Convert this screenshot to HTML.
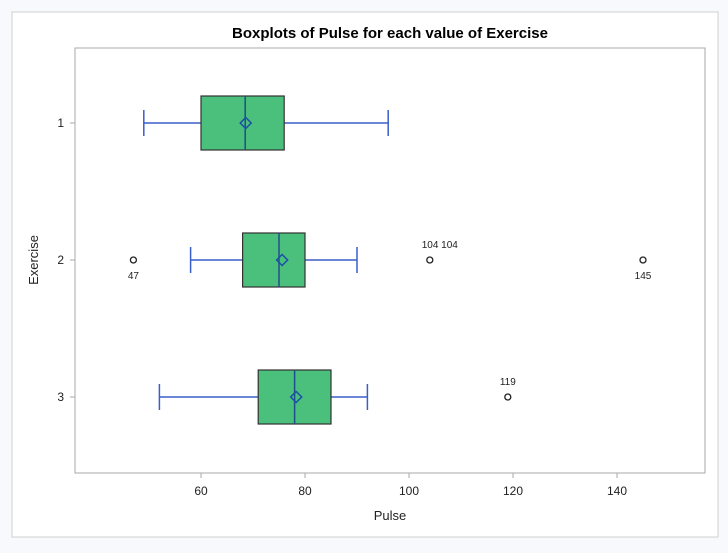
<!DOCTYPE html>
<html><head><meta charset="utf-8"><style>
html,body{margin:0;padding:0;background:#f7f9fd;}
svg{display:block;font-family:"Liberation Sans",sans-serif;}
</style></head><body>
<svg id="chart" width="728" height="553">
<rect x="12" y="12" width="706" height="525" fill="#fff" stroke="#d0d0d0"/>
<text x="390" y="38" text-anchor="middle" font-size="15" font-weight="bold" fill="#000">Boxplots of Pulse for each value of Exercise</text>
<rect x="75" y="48" width="630" height="425" fill="none" stroke="#a8a8a8"/>
<text x="390" y="520" text-anchor="middle" font-size="13" fill="#222">Pulse</text>
<text transform="translate(38,260) rotate(-90)" text-anchor="middle" font-size="13" fill="#222">Exercise</text>
<g id="g"></g>
</svg>
<script>
const categories=["1","2","3"];
const mins=[49,58,52];
const q1s=[60,68,71];
const medians=[68.5,75,78];
const q3s=[76,80,85];
const maxs=[96,90,92];
const means=[68.6,75.6,78.3];
const outlierCats=["2","2","3"];
const outlierVals=[47,104,145,119].slice(0,0);
const outCat=["2","2","2","3"];
const outVal=[47,104,145,119];
const outLabel=["47","104 104","145","119"];
const outLabelAbove=[false,true,false,true];
const xTicks=[60,80,100,120,140];

const xs=v=>201+(v-60)*5.2;
const ys=c=>123+categories.indexOf(c)*137;
const NS="http://www.w3.org/2000/svg";
const g=document.getElementById('g');
function mk(t,a,p){const e=document.createElementNS(NS,t);for(const k in a)e.setAttribute(k,a[k]);(p||g).appendChild(e);return e;}

xTicks.forEach(t=>{
 const l=mk('line',{x1:xs(t),x2:xs(t),y1:473,y2:478,stroke:'#a8a8a8'});
 
 
 const tx=mk('text',{x:xs(t),y:495,'text-anchor':'middle','font-size':12,fill:'#222'});tx.textContent=t;
 
 
});
categories.forEach((c,i)=>{
 const y=ys(c);
 const l=mk('line',{x1:70,x2:75,y1:y,y2:y,stroke:'#a8a8a8'});
 
 
 const tx=mk('text',{x:64,y:y+4,'text-anchor':'end','font-size':12,fill:'#222'});tx.textContent=c;
 
 
 const w=mk('path',{d:`M${xs(mins[i])},${y}H${xs(q1s[i])}M${xs(q3s[i])},${y}H${xs(maxs[i])}M${xs(mins[i])},${y-13}V${y+13}M${xs(maxs[i])},${y-13}V${y+13}`,stroke:'#3a5fc8','stroke-width':1.5,fill:'none'});
 
 
 const b=mk('rect',{x:xs(q1s[i]),y:y-27,width:xs(q3s[i])-xs(q1s[i]),height:54,fill:'#4bbf7c',stroke:'#333','stroke-width':1.2});
 
 
 const m=mk('line',{x1:xs(medians[i]),x2:xs(medians[i]),y1:y-27,y2:y+27,stroke:'#1f4f8a','stroke-width':1.5});
 
 
 const mx=xs(means[i]);
 const d=mk('path',{d:`M${mx},${y-5.5}L${mx+5.5},${y}L${mx},${y+5.5}L${mx-5.5},${y}Z`,fill:'none',stroke:'#1a4fa8','stroke-width':1.5});
 
 
});
outVal.forEach((v,i)=>{
 const y=ys(outCat[i]);
 const o=mk('circle',{cx:xs(v),cy:y,r:3,fill:'none',stroke:'#222','stroke-width':1.3});
 
 
 const t=mk('text',{x:xs(v)+(outLabel[i].length>4?10:0),y:outLabelAbove[i]?y-12:y+19,'text-anchor':'middle','font-size':10,fill:'#222'});
 t.textContent=outLabel[i];
 
 
});
</script>
</body></html>
